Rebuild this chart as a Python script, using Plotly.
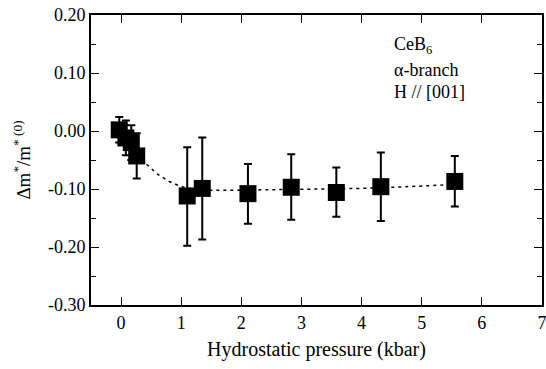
import plotly.graph_objects as go

# Data
pressure = [-0.03, 0.08, 0.17, 0.26, 1.10, 1.35, 2.11, 2.83, 3.58, 4.32, 5.55]
dm_ratio = [0.002, -0.012, -0.020, -0.043, -0.112, -0.099, -0.108, -0.097, -0.106, -0.096, -0.087]
err_up = [0.022, 0.030, 0.030, 0.039, 0.084, 0.088, 0.051, 0.057, 0.043, 0.059, 0.044]
err_down = [0.022, 0.030, 0.030, 0.039, 0.086, 0.088, 0.052, 0.056, 0.042, 0.059, 0.043]

fit_x = [0.0, 0.2, 0.4, 0.6, 0.8, 1.0, 1.2, 1.5, 2.0, 3.0, 4.0, 5.0, 5.55]
fit_y = [0.0, -0.030, -0.055, -0.074, -0.087, -0.096, -0.100, -0.102, -0.102, -0.101, -0.099, -0.095, -0.092]

x_ticks = [0, 1, 2, 3, 4, 5, 6, 7]
y_ticks = [0.20, 0.10, 0.00, -0.10, -0.20, -0.30]
y_ticklabels = ["0.20", "0.10", "0.00", "-0.10", "-0.20", "-0.30"]

FONT = "Liberation Serif"

fig = go.Figure()
fig.add_trace(go.Scatter(
    x=fit_x, y=fit_y, mode="lines",
    line=dict(color="black", width=1.5, dash="3px,4px"),
    hoverinfo="skip", showlegend=False))
fig.add_trace(go.Scatter(
    x=pressure, y=dm_ratio, mode="markers",
    marker=dict(symbol="square", size=17, color="black"),
    error_y=dict(type="data", symmetric=False, array=err_up, arrayminus=err_down,
                 color="black", thickness=2, width=4),
    showlegend=False))

axis_common = dict(
    showline=True, linecolor="black", linewidth=2, mirror="ticks",
    ticks="inside", ticklen=8, tickwidth=1.2, tickcolor="black",
    showgrid=False, zeroline=False, automargin=False,
    ticklabeloverflow="allow",
    tickfont=dict(family=FONT, size=18, color="black"),
)

fig.update_xaxes(
    range=[-0.5, 7], tickvals=x_ticks, ticktext=[str(v) for v in x_ticks],
    title=dict(text="Hydrostatic pressure (kbar)", font=dict(family=FONT, size=20, color="black"),
               standoff=10),
    **axis_common)
fig.update_yaxes(
    range=[-0.30, 0.20], tickvals=y_ticks, ticktext=y_ticklabels,
    minor=dict(dtick=0.05, ticks="inside", ticklen=5, tickcolor="black", tickwidth=1),
    title=dict(text="Δm<sup>*</sup>/m<sup>*</sup><sup> (0)</sup>",
               font=dict(family=FONT, size=19, color="black"), standoff=12),
    **axis_common)

for txt, yy in [("CeB<sub>6</sub>", 0.148), ("α-branch", 0.106), ("H // [001]", 0.068)]:
    fig.add_annotation(x=4.5, y=yy, xref="x", yref="y", text=txt, showarrow=False,
                       xanchor="left", yanchor="middle",
                       font=dict(family=FONT, size=18, color="black"))

fig.update_layout(
    width=546, height=369,
    margin=dict(l=91, r=4, t=15, b=64),
    paper_bgcolor="white", plot_bgcolor="white",
    font=dict(family=FONT, color="black"),
)

# remove the page's default body margin so the figure fills the window exactly
fig.write_html("out.html",
               config={"displayModeBar": False},
               post_script="document.body.style.margin='0';document.body.style.overflow='hidden';")
